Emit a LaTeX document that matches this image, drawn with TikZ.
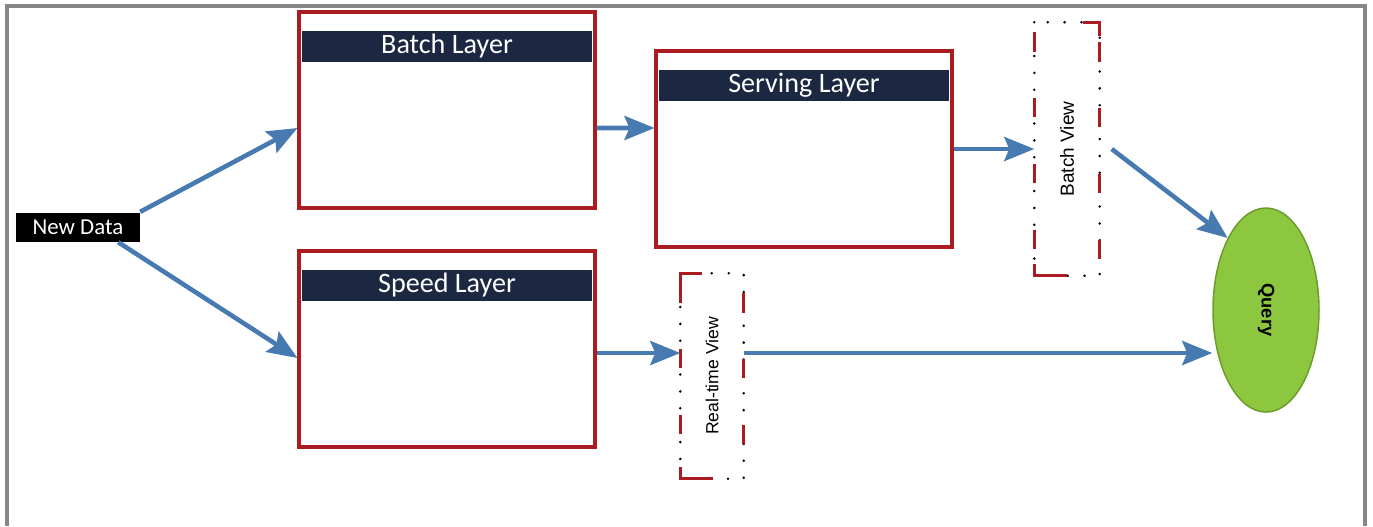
\documentclass[tikz,border=0pt]{standalone}
\usepackage{fontspec}
\newfontfamily\carlito{Carlito}
\newfontfamily\arialsf{Liberation Sans}
\usetikzlibrary{arrows.meta, positioning, shapes.geometric}

\definecolor{layerred}{RGB}{170,28,34}
\definecolor{layernavy}{RGB}{28,40,66}
\definecolor{flowblue}{RGB}{70,122,176}
\definecolor{querygreen}{RGB}{141,198,63}
\definecolor{queryedge}{RGB}{105,155,40}
\definecolor{framegray}{RGB}{135,135,135}

\begin{document}
\begin{tikzpicture}[
  >={Stealth[length=3mm, width=2.4mm, inset=0.5mm]},
  x=0.01cm, y=-0.01cm, % 1 unit = 1 px, y grows downwards
  layerbox/.style={draw=layerred, line width=1.1pt, minimum width=2.95cm,
                   minimum height=1.96cm, inner sep=0pt},
  layerhead/.style={fill=layernavy, text=white, minimum width=2.9cm,
                    minimum height=0.31cm, inner sep=0pt,
                    font=\carlito\fontsize{8}{9}\selectfont},
  viewbox/.style={minimum width=0.64cm, inner sep=0pt,
                  font=\arialsf\fontsize{5.4}{6}\selectfont},
  viewdots/.style={line width=0.8pt, line cap=round, dash pattern=on 0pt off 4.8pt},
  viewdash/.style={draw=layerred, line width=0.9pt, dash pattern=on 5.5pt off 13.2pt},
  viewcorner/.style={draw=layerred, line width=0.9pt},
  flow/.style={->, draw=flowblue, line width=1.3pt}
]
  % page and frame
  \useasboundingbox (0,0) rectangle (1373,526);
  \fill[white] (0,0) rectangle (1373,526);
  \draw[framegray, line width=0.9pt] (7,526) -- (7,6) -- (1365,6) -- (1365,526);

  % view frame: dots all round, red dashes on the sides, red corner bottom left
  \newcommand{\viewframe}[1]{%
    \draw[viewdots] (#1.north west) rectangle (#1.south east);
    \draw[viewdash] ([yshift=-0.1cm]#1.north west) -- ([yshift=0.12cm]#1.south west);
    \draw[viewdash] ([yshift=-0.2cm]#1.north east) -- (#1.south east);
    \draw[viewcorner] ([yshift=0.12cm]#1.south west) |- ([xshift=0.33cm]#1.south west);
  }

  % input
  \node[fill=black, text=white, minimum width=1.23cm, minimum height=0.29cm, inner sep=0pt,
        font=\carlito\fontsize{6.5}{7}\selectfont] (newdata) at (78,227) {New Data};

  % layers
  \node[layerbox] (batch) at (447,110) {};
  \node[layerhead, below=0.2cm of batch.north] (batchhead) {Batch Layer};
  \node[layerbox] (serving) at (804,149) {};
  \node[layerhead, below=0.2cm of serving.north] (servinghead) {Serving Layer};
  \node[layerbox] (speed) at (447,349) {};
  \node[layerhead, below=0.2cm of speed.north] (speedhead) {Speed Layer};

  % views
  \node[viewbox, minimum height=2.52cm] (batchview) at (1067,149) {\rotatebox{90}{Batch View}};
  \node[viewbox, minimum width=0.62cm, minimum height=2.04cm,
        font=\arialsf\fontsize{5}{6}\selectfont] (rtview) at (712,376) {\rotatebox{90}{Real-time View}};
  \viewframe{batchview}
  \viewframe{rtview}
  \draw[viewcorner] ([xshift=-0.17cm]batchview.north east) -| ([yshift=-0.14cm]batchview.north east);
  \draw[viewcorner] ([yshift=-0.12cm]rtview.north west) |- ([xshift=0.22cm]rtview.north west);

  % query
  \node[ellipse, draw=queryedge, fill=querygreen, minimum width=1.06cm, minimum height=2.04cm,
        inner sep=0pt, font=\arialsf\bfseries\fontsize{5.2}{6}\selectfont] (query) at (1266,310)
        {\rotatebox{-90}{Query}};

  % data flow
  \draw[flow] (newdata.north east) -- ([yshift=-0.18cm]batch.west);
  \draw[flow] ([xshift=-0.22cm]newdata.south east) -- ([yshift=-0.09cm]speed.west);
  \draw[flow] ([yshift=-0.18cm]batch.east) -- ([yshift=0.21cm]serving.west);
  \draw[flow] (serving.east) -- (batchview.west);
  \draw[flow] ([yshift=-0.04cm]speed.east) coordinate (rtin) -- (rtin -| rtview.west);
  \draw[flow] (rtin -| rtview.east) -- (rtin -| query.west);
  \draw[flow] ([xshift=0.12cm]batchview.east) -- (query.118);
\end{tikzpicture}
\end{document}
